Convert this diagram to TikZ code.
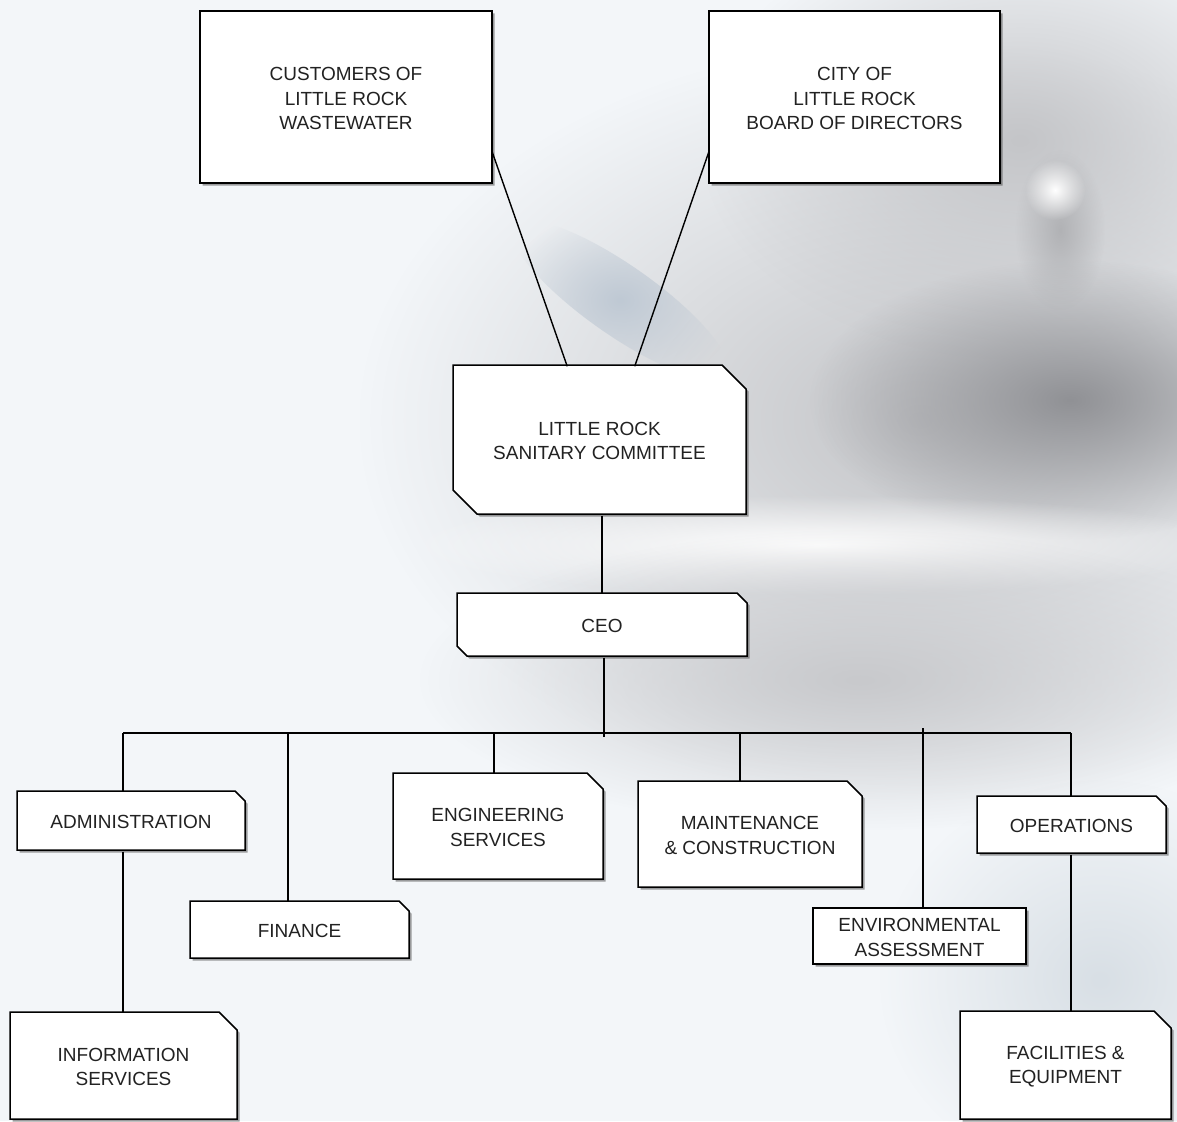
\documentclass[tikz,border=0pt]{standalone}
\usepackage{fontspec}
\setmainfont{Liberation Sans}
\usetikzlibrary{shadows,fadings,calc}
\tikzfading[name=soft, inner color=transparent!0, outer color=transparent!100]
\definecolor{bgbase}{HTML}{F3F6F9}
\definecolor{bggray}{HTML}{C4C5C8}
\definecolor{bgdark}{HTML}{909195}
\definecolor{bglow}{HTML}{C8C9CC}
\definecolor{bgblue}{HTML}{BFC9D4}
\definecolor{txt}{HTML}{222222}
\tikzset{
  boxline/.style={draw=black, line width=1.5pt, fill=white,
    drop shadow={shadow xshift=2.5pt, shadow yshift=-2.5pt, fill=black!75, opacity=0.5}},
  boxtext/.style={inner sep=0pt, align=center, text=txt,
    font=\fontsize{19}{24.5}\selectfont},
  conn/.style={draw=black, line width=1.4pt},
  blob/.style={path fading=soft}
}
% name, x1, y1, x2, y2, NE cut, SW cut, text
\newcommand\orgbox[8]{%
  \path[boxline] (#2,#3) -- ({#4-#6},#3) -- (#4,{#3+#6}) -- (#4,#5) -- ({#2+#7},#5) -- (#2,{#5-#7}) -- cycle;
  \node[boxtext, minimum width={(#4-#2)*1pt}, minimum height={(#5-#3)*1pt}] (#1) at ({(#2+#4)/2},{(#3+#5)/2+1.5}) {#8};
}
\begin{document}
\begin{tikzpicture}[x=1pt, y=-1pt]
\useasboundingbox (0,0) rectangle (1177,1121);
\clip (0,0) rectangle (1177,1121);
% background
\fill[bgbase] (0,0) rectangle (1177,1121);
\fill[bggray, blob] (920,420) ellipse [x radius=560pt, y radius=380pt];
\fill[bggray, blob] (1020,140) ellipse [x radius=320pt, y radius=220pt];
\fill[bgdark, blob] (1070,400) ellipse [x radius=260pt, y radius=140pt];
\fill[white, blob] (820,545) ellipse [x radius=420pt, y radius=50pt];
\fill[bglow, blob] (860,680) ellipse [x radius=440pt, y radius=150pt];
\fill[bgblue, blob, rotate around={-35:(620,300)}] (620,300) ellipse [x radius=130pt, y radius=35pt];
\fill[bgblue!60, blob] (1100,980) ellipse [x radius=220pt, y radius=200pt];
\fill[bgdark!70, blob] (1060,230) ellipse [x radius=45pt, y radius=80pt];
\fill[white, blob] (1055,190) ellipse [x radius=30pt, y radius=30pt];

% boxes
\orgbox{cust}{200}{11}{492}{183}{0}{0}{CUSTOMERS OF\\LITTLE ROCK\\WASTEWATER}
\orgbox{city}{709}{11}{1000}{183}{0}{0}{CITY OF\\LITTLE ROCK\\BOARD OF DIRECTORS}
\orgbox{comm}{453}{365}{746}{514}{24}{24}{LITTLE ROCK\\SANITARY COMMITTEE}
\orgbox{ceo}{457}{593}{747}{656}{10}{10}{CEO}
\orgbox{admin}{17}{791}{245}{850}{10}{0}{ADMINISTRATION}
\orgbox{fin}{190}{901}{409}{958}{10}{0}{FINANCE}
\orgbox{eng}{393}{773}{603}{879}{16}{0}{ENGINEERING\\SERVICES}
\orgbox{maint}{638}{781}{862}{887}{15}{0}{MAINTENANCE\\\& CONSTRUCTION}
\orgbox{env}{813}{908}{1026}{964}{0}{0}{ENVIRONMENTAL\\ASSESSMENT}
\orgbox{ops}{977}{796}{1166}{853}{10}{0}{OPERATIONS}
\orgbox{info}{10}{1012}{237}{1119}{18}{0}{INFORMATION\\SERVICES}
\orgbox{fac}{960}{1011}{1171}{1119}{17}{0}{FACILITIES \&\\EQUIPMENT}

% connectors
\draw[conn] ($(cust.south east)!0.19!(cust.north east)$) -- ($(comm.north west)!0.39!(comm.north east)$);
\draw[conn] ($(city.south west)!0.19!(city.north west)$) -- ($(comm.north west)!0.62!(comm.north east)$);
\draw[conn] (comm.south -| ceo.north) -- (ceo.north);
\coordinate (ceoEnd) at (604,737);
\draw[conn] (ceo.south -| ceoEnd) -- (ceoEnd);
\coordinate (busL) at (123,733);
\coordinate (busR) at (1071,733);
\coordinate (bF) at (288,733);
\coordinate (bE) at (494,733);
\coordinate (bM) at (740,733);
\coordinate (bV) at (923,728);
\draw[conn] (busL) -- (busR);
\draw[conn] (busL) -- (admin.north -| busL);
\draw[conn] (admin.south -| busL) -- (info.north -| busL);
\draw[conn] (bF) -- (fin.north -| bF);
\draw[conn] (bE) -- (eng.north -| bE);
\draw[conn] (bM) -- (maint.north -| bM);
\draw[conn] (bV) -- (env.north -| bV);
\draw[conn] (busR) -- (ops.north -| busR);
\draw[conn] (ops.south -| busR) -- (fac.north -| busR);
\end{tikzpicture}
\end{document}
